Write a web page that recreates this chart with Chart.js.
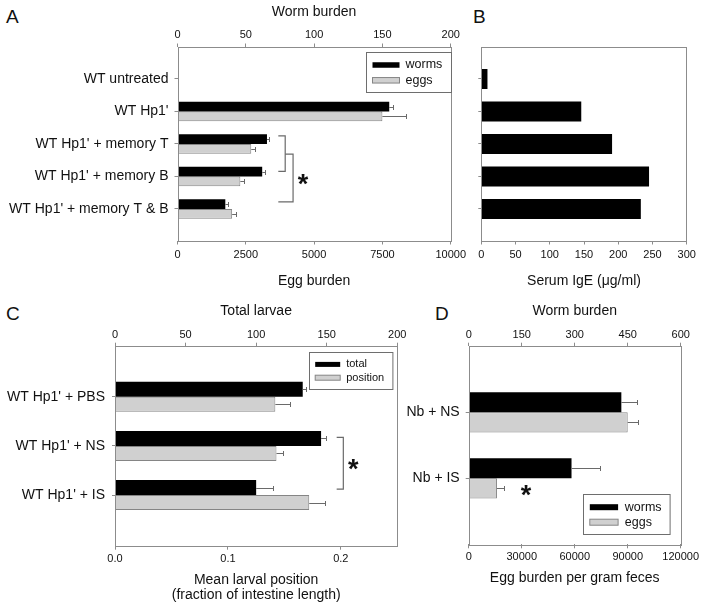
<!DOCTYPE html>
<html>
<head>
  <title>Worm and egg burden</title>
  <style>
    body { margin: 0; background: #fff; font-family: "Liberation Sans", Arial, sans-serif; }
    #page { position: relative; width: 704px; height: 610px; }
    .panel { position: absolute; }
    .letter { position: absolute; font-size: 19px; line-height: 19px; color: #111; }
  </style>
</head>
<body>
<div id="page">
  <div class="letter" style="left:6px;top:7px">A</div>
  <div class="letter" style="left:473px;top:7px">B</div>
  <div class="letter" style="left:6px;top:304px">C</div>
  <div class="letter" style="left:435px;top:304px">D</div>

  <div class="panel" style="left:0;top:0;width:470px;height:300px"><canvas id="chartA"></canvas></div>
  <div class="panel" style="left:470px;top:0;width:234px;height:300px"><canvas id="chartB"></canvas></div>
  <div class="panel" style="left:0;top:295px;width:420px;height:315px"><canvas id="chartC"></canvas></div>
  <div class="panel" style="left:400px;top:295px;width:304px;height:315px"><canvas id="chartD"></canvas></div>
</div>

<script src="https://cdn.jsdelivr.net/npm/chart.js"></script>
<script>
  // A: worm burden (top axis) and egg burden (bottom axis)
  const aLabels = ["WT untreated", "WT Hp1'", "WT Hp1' + memory T", "WT Hp1' + memory B", "WT Hp1' + memory T & B"];
  const aWorms = [null, 155, 65.5, 62, 35];
  const aWormsErr = [null, 2.5, 1.5, 2, 2];
  const aEggs = [null, 7500, 2700, 2300, 2000];
  const aEggsErr = [null, 870, 120, 140, 150];

  // B: serum IgE, same groups as A
  const bIgE = [9, 146, 191, 245, 233];

  // C: total larvae (top axis) and mean larval position (bottom axis)
  const cLabels = ["WT Hp1' + PBS", "WT Hp1' + NS", "WT Hp1' + IS"];
  const cTotal = [133, 146, 100];
  const cTotalErr = [2, 3.8, 11.8];
  const cPosition = [0.142, 0.143, 0.172];
  const cPositionErr = [0.013, 0.006, 0.014];

  // D: worm burden (top axis) and eggs per gram feces (bottom axis)
  const dLabels = ["Nb + NS", "Nb + IS"];
  const dWorms = [432, 291];
  const dWormsErr = [44, 80];
  const dEggs = [90000, 16000];
  const dEggsErr = [6000, 3700];

  Chart.defaults.font.family = '"Liberation Sans", Arial, sans-serif';
  Chart.defaults.color = '#111';
  Chart.defaults.animation = false;
  Chart.defaults.plugins.legend.display = false;
  Chart.defaults.plugins.tooltip.enabled = false;

  const BLACK = '#000000';
  const GREY = '#d0d0d0';
  const GREY_EDGE = '#858585';
  const AXIS = '#8c8c8c';

  // points for a horizontal bar on a numeric category axis
  function pts(values) {
    return values.map((v, i) => ({x: v, y: i}));
  }

  function catAxis(labels, min, max, width, showLabels, pad) {
    return {
      type: 'linear', min: min, max: max, reverse: true, offset: false,
      grid: { drawOnChartArea: false, tickLength: 3, color: AXIS, offset: false },
      border: { display: false },
      ticks: {
        autoSkip: false, padding: pad, font: { size: 14 },
        callback: v => showLabels ? labels[v] : ''
      },
      afterBuildTicks: s => { s.ticks = labels.map((l, i) => ({value: i})); },
      afterFit: s => { s.width = width; }
    };
  }

  function valAxis(pos, max, step, title, height, titlePad, tickPad, fmt) {
    const t = Array.isArray(title);
    return {
      type: 'linear', position: pos, min: 0, max: max,
      grid: { drawOnChartArea: false, tickLength: pos == 'top' ? 3 : 4, color: AXIS },
      border: { display: false },
      ticks: { stepSize: step, includeBounds: false, padding: tickPad, font: { size: 11 }, maxRotation: 0,
               callback: fmt || (v => v) },
      title: {
        display: true, text: title, color: '#111',
        font: { size: 14, lineHeight: t ? 1.07 : 1.2 },
        padding: pos == 'top' ? { top: titlePad, bottom: 0 } : { top: 0, bottom: titlePad }
      },
      afterFit: s => { s.height = height; }
    };
  }

  // error bars, plot frame, brackets, asterisk and boxed legend
  const decor = {
    id: 'decor',
    afterDatasetsDraw(chart, args, o) {
      const ctx = chart.ctx;
      const a = chart.chartArea;
      ctx.save();
      ctx.lineWidth = 1;

      chart.data.datasets.forEach((ds, di) => {
        if (!ds.errors) return;
        const meta = chart.getDatasetMeta(di);
        const xs = chart.scales[meta.xAxisID];
        meta.data.forEach((bar, i) => {
          const v = ds.data[i].x, e = ds.errors[i];
          if (v == null || !e) return;
          const x1 = Math.round(xs.getPixelForValue(v + e)) + 0.5;
          const y = Math.round(bar.y) + 0.5;
          ctx.strokeStyle = '#6a6a6a';
          ctx.beginPath();
          ctx.moveTo(bar.x, y); ctx.lineTo(x1, y);
          ctx.moveTo(x1, y - 2.5); ctx.lineTo(x1, y + 2.5);
          ctx.stroke();
        });
      });

      ctx.strokeStyle = AXIS;
      ctx.strokeRect(Math.round(a.left) + 0.5, Math.round(a.top) + 0.5,
                     Math.round(a.right - a.left), Math.round(a.bottom - a.top));

      const xs = chart.scales.x, ys = chart.scales.y;
      (o.brackets || []).forEach(line => {
        ctx.strokeStyle = '#6a6a6a';
        ctx.lineWidth = 1.2;
        ctx.beginPath();
        line.forEach((p, i) => {
          const px = xs.getPixelForValue(p[0]), py = ys.getPixelForValue(p[1]);
          if (i == 0) ctx.moveTo(px, py); else ctx.lineTo(px, py);
        });
        ctx.stroke();
      });

      if (o.star) {
        const size = 27;
        ctx.fillStyle = '#111';
        ctx.font = 'bold ' + size + 'px "Liberation Sans"';
        ctx.textAlign = 'center';
        ctx.textBaseline = 'alphabetic';
        ctx.fillText('*', xs.getPixelForValue(o.star[0]), ys.getPixelForValue(o.star[1]) + 0.58 * size);
      }

      if (o.legend) {
        const L = o.legend;
        const x0 = Math.round(a.left + L.x) + 0.5, y0 = Math.round(a.top + L.y) + 0.5;
        ctx.lineWidth = 1;
        ctx.fillStyle = '#fff';
        ctx.fillRect(x0, y0, L.w, L.h);
        ctx.strokeStyle = '#6e6e6e';
        ctx.strokeRect(x0, y0, L.w, L.h);
        ctx.font = L.size + 'px "Liberation Sans"';
        ctx.textAlign = 'left';
        ctx.textBaseline = 'middle';
        chart.data.datasets.forEach((ds, i) => {
          const cy = y0 + L.rows[i];
          ctx.fillStyle = ds.backgroundColor;
          ctx.fillRect(x0 + L.sx, cy - L.sh / 2, L.sw, L.sh);
          if (ds.borderWidth) {
            ctx.strokeStyle = ds.borderColor;
            ctx.strokeRect(x0 + L.sx, cy - L.sh / 2, L.sw, L.sh);
          }
          ctx.fillStyle = '#111';
          ctx.fillText(ds.label, x0 + L.tx, cy);
        });
      }
      ctx.restore();
    }
  };

  function panel(id, datasets, scales, pad, deco) {
    return new Chart(document.getElementById(id), {
      type: 'bar',
      data: { datasets: datasets },
      options: {
        indexAxis: 'y',
        responsive: true,
        maintainAspectRatio: false,
        layout: { padding: pad },
        scales: scales,
        plugins: { decor: deco }
      },
      plugins: [decor]
    });
  }

  const blackSet = (label, vals, errs, axis, pct) => ({
    label: label, data: pts(vals), errors: errs, xAxisID: axis,
    backgroundColor: BLACK, borderWidth: 0, categoryPercentage: pct, barPercentage: 1
  });
  const greySet = (label, vals, errs, axis, pct) => ({
    label: label, data: pts(vals), errors: errs, xAxisID: axis,
    backgroundColor: GREY, borderColor: GREY_EDGE, borderWidth: 1, categoryPercentage: pct, barPercentage: 1
  });

  panel('chartA', [
      blackSet('worms', aWorms, aWormsErr, 'xTop', 0.6),
      greySet('eggs', aEggs, aEggsErr, 'x', 0.6)
    ], {
      y: catAxis(aLabels, -1, 4.97, 177.5, true, 6),
      xTop: valAxis('top', 200, 50, 'Worm burden', 46.5, 3.3, 1.5),
      x: valAxis('bottom', 10000, 2500, 'Egg burden', 59.5, 10.6, 4)
    },
    { left: 0, top: 0, right: 14.7, bottom: 0 },
    {
      legend: { x: 188.5, y: 5.5, w: 85, h: 40, sx: 6, sw: 27, sh: 5.5, tx: 39, rows: [12.5, 27.8], size: 12.5 },
      brackets: [
        [[3690, 1.75], [3942, 1.75], [3942, 2.84], [3690, 2.84]],
        [[3942, 2.31], [4230, 2.31], [4230, 3.78], [3690, 3.78]]
      ],
      star: [4590, 3.03]
    });

  panel('chartB', [
      blackSet('IgE', bIgE, null, 'x', 0.615)
    ], {
      y: catAxis(aLabels, -1, 4.97, 11.3, false, 0),
      x: valAxis('bottom', 300, 50, 'Serum IgE (\u03bcg/ml)', 59.5, 10.6, 4)
    },
    { left: 0, top: 46.5, right: 17.3, bottom: 0 },
    {});

  panel('chartC', [
      blackSet('total', cTotal, cTotalErr, 'xTop', 0.61),
      greySet('position', cPosition, cPositionErr, 'x', 0.61)
    ], {
      y: catAxis(cLabels, -1.04, 3.03, 115, true, 7),
      xTop: valAxis('top', 200, 50, 'Total larvae', 50.7, 7.9, 1.5),
      x: valAxis('bottom', 0.25, 0.1, ['Mean larval position', '(fraction of intestine length)'], 64.3, 7, 2.5,
                 v => v.toFixed(1))
    },
    { left: 0, top: 0, right: 22.7, bottom: 0 },
    {
      legend: { x: 194.3, y: 6.6, w: 83.4, h: 37, sx: 5.7, sw: 25, sh: 5, tx: 36.7, rows: [11.9, 25.2], size: 11 },
      brackets: [
        [[0.1963, 0.826], [0.2022, 0.826], [0.2022, 1.88], [0.1963, 1.88]]
      ],
      star: [0.211, 1.34]
    });

  panel('chartD', [
      blackSet('worms', dWorms, dWormsErr, 'xTop', 0.61),
      greySet('eggs', dEggs, dEggsErr, 'x', 0.61)
    ], {
      y: catAxis(dLabels, -1.01, 2.0, 68.7, true, 6),
      xTop: valAxis('top', 600, 150, 'Worm burden', 50.7, 7.9, 1.5),
      x: valAxis('bottom', 120000, 30000, 'Egg burden per gram feces', 65.7, 23.3, 2.5)
    },
    { left: 0, top: 0, right: 23.3, bottom: 0 },
    {
      legend: { x: 114, y: 148.6, w: 86.6, h: 40, sx: 6.3, sw: 28.3, sh: 6, tx: 41.3, rows: [12.7, 27.7], size: 12.5 },
      star: [32430, 1.15]
    });
</script>
</body>
</html>
